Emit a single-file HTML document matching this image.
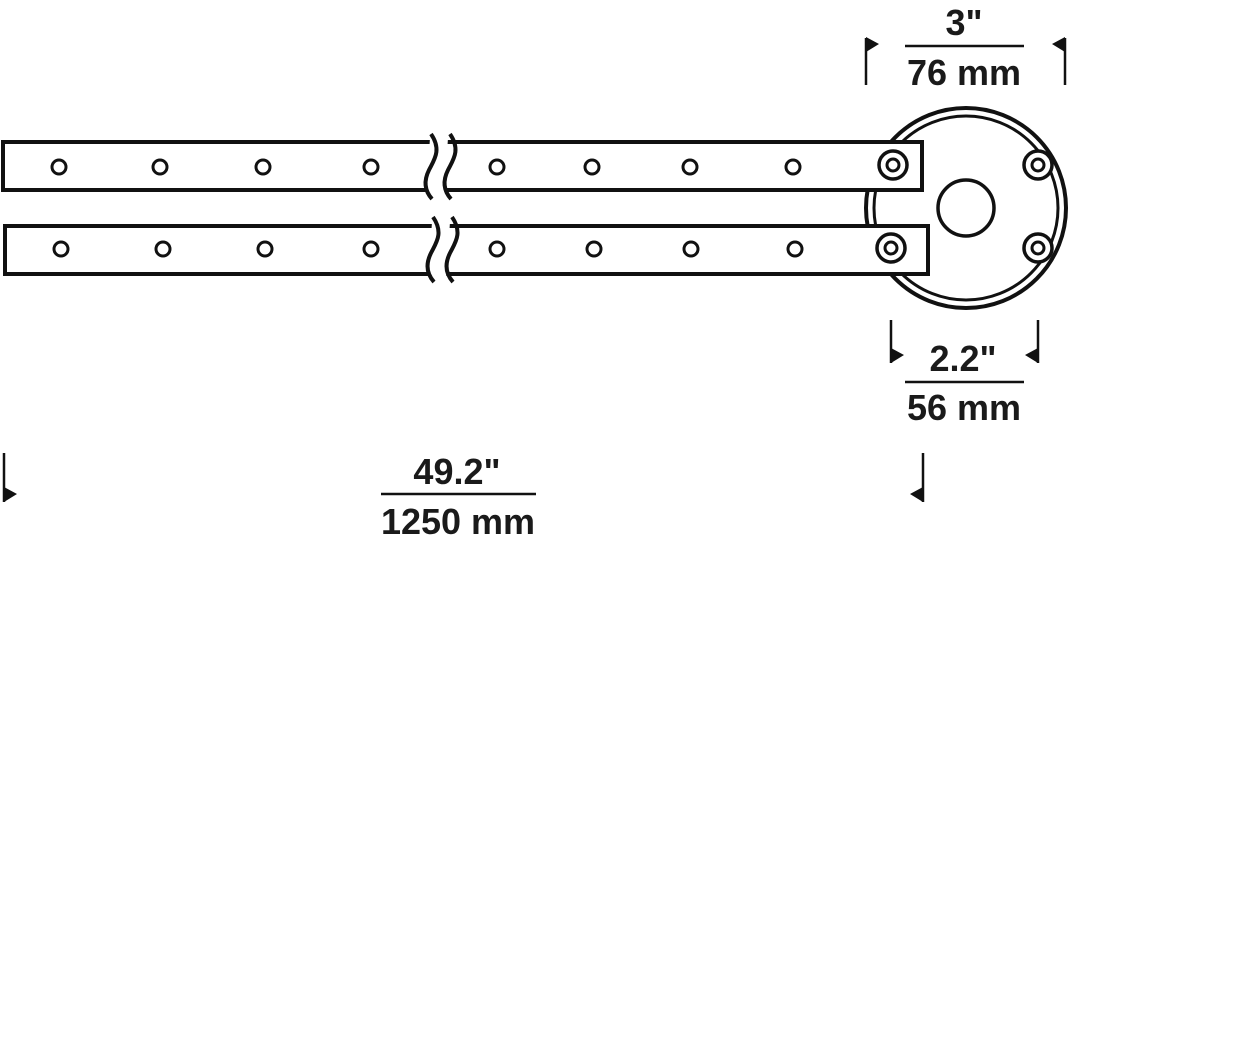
<!DOCTYPE html>
<html><head><meta charset="utf-8"><style>
html,body{margin:0;padding:0;background:#fff;}
svg{display:block;}
text{font-family:"Liberation Sans",sans-serif;font-weight:bold;font-size:36px;fill:#1a1a1a;letter-spacing:0px;}
</style></head><body>
<svg width="1242" height="1046" viewBox="0 0 1242 1046" xmlns="http://www.w3.org/2000/svg">
<g stroke="#111" stroke-width="4" fill="none">
  <circle cx="966" cy="208" r="100"/>
  <circle cx="966" cy="208" r="92" stroke-width="3"/>
  <circle cx="966" cy="208" r="28" stroke-width="3.5"/>
  <circle cx="1038" cy="165" r="14" fill="#fff" stroke-width="3.5"/>
  <circle cx="1038" cy="165" r="6" stroke-width="3"/>
  <circle cx="1038" cy="248" r="14" fill="#fff" stroke-width="3.5"/>
  <circle cx="1038" cy="248" r="6" stroke-width="3"/>
  <rect x="3" y="142" width="919" height="48" fill="#fff"/>
  <rect x="5" y="226" width="923" height="48" fill="#fff"/>
  <circle cx="893" cy="165" r="14" stroke-width="3.5"/>
  <circle cx="893" cy="165" r="6" stroke-width="3"/>
  <circle cx="891" cy="248" r="14" stroke-width="3.5"/>
  <circle cx="891" cy="248" r="6" stroke-width="3"/>
  <g stroke-width="3">
    <circle cx="59" cy="167" r="7"/><circle cx="160" cy="167" r="7"/><circle cx="263" cy="167" r="7"/><circle cx="371" cy="167" r="7"/>
    <circle cx="497" cy="167" r="7"/><circle cx="592" cy="167" r="7"/><circle cx="690" cy="167" r="7"/><circle cx="793" cy="167" r="7"/>
    <circle cx="61" cy="249" r="7"/><circle cx="163" cy="249" r="7"/><circle cx="265" cy="249" r="7"/><circle cx="371" cy="249" r="7"/>
    <circle cx="497" cy="249" r="7"/><circle cx="594" cy="249" r="7"/><circle cx="691" cy="249" r="7"/><circle cx="795" cy="249" r="7"/>
  </g>
  <path d="M430 138 L448 138 L444 196 L426 196 Z" fill="#fff" stroke="none"/>
  <path d="M432 222 L450 222 L446 280 L428 280 Z" fill="#fff" stroke="none"/>
  <path d="M431 134 C442 150 434 160 429 170 C424 180 424 190 432 199"/>
  <path d="M450 134 C461 150 453 160 448 170 C443 180 443 190 451 199"/>
  <path d="M433 217 C444 233 436 243 431 253 C426 263 426 273 434 282"/>
  <path d="M452 217 C463 233 455 243 450 253 C445 263 445 273 453 282"/>
</g>
<g stroke="#111" stroke-width="2.5" fill="#111">
  <line x1="866" y1="38" x2="866" y2="85"/><path d="M866 37 L879 44 L866 52 Z" stroke="none"/>
  <line x1="1065" y1="38" x2="1065" y2="85"/><path d="M1065 37 L1052 44 L1065 52 Z" stroke="none"/>
  <line x1="905" y1="46" x2="1024" y2="46"/>
  <line x1="891" y1="320" x2="891" y2="363"/><path d="M891 348 L904 355 L891 363 Z" stroke="none"/>
  <line x1="1038" y1="320" x2="1038" y2="363"/><path d="M1038 348 L1025 355 L1038 363 Z" stroke="none"/>
  <line x1="905" y1="382" x2="1024" y2="382"/>
  <line x1="4" y1="453" x2="4" y2="502"/><path d="M4 487 L17 494 L4 502 Z" stroke="none"/>
  <line x1="923" y1="453" x2="923" y2="502"/><path d="M923 487 L910 494 L923 502 Z" stroke="none"/>
  <line x1="381" y1="494" x2="536" y2="494"/>
</g>
<text x="964" y="35" text-anchor="middle">3"</text>
<text x="964" y="85" text-anchor="middle">76 mm</text>
<text x="963" y="371" text-anchor="middle">2.2"</text>
<text x="964" y="420" text-anchor="middle">56 mm</text>
<text x="457" y="484" text-anchor="middle">49.2"</text>
<text x="458" y="534" text-anchor="middle">1250 mm</text>
</svg>
</body></html>
